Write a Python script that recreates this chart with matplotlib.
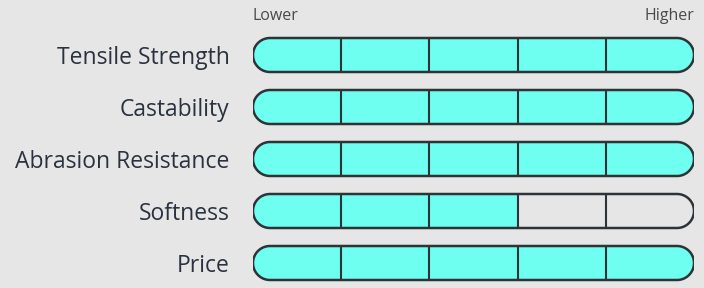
import numpy as np
import matplotlib
matplotlib.use('Agg')
import matplotlib.pyplot as plt
from matplotlib.patches import PathPatch, Rectangle
from matplotlib.path import Path

# Data
properties = ['Tensile Strength', 'Castability', 'Abrasion Resistance', 'Softness', 'Price']
levels = [5, 5, 5, 3, 5]
n_steps = 5
scale_labels = ['Lower', 'Higher']

BG = '#e6e6e6'
FILL = '#6ffff0'
EDGE = '#2e3338'
TEXT = '#2a3240'

plt.rcParams['font.family'] = ['Open Sans', 'DejaVu Sans']

W, H, DPI = 704, 288, 100
fig = plt.figure(figsize=(W / DPI, H / DPI), dpi=DPI, facecolor=BG)

# bar area in pixels
x0, x1 = 253, 694
row_gap = 52
top_center = 55
y_top = top_center - row_gap / 2
y_bot = y_top + row_gap * len(properties)
ax = fig.add_axes([x0 / W, 1 - y_bot / H, (x1 - x0) / W, (y_bot - y_top) / H])
ax.set_facecolor(BG)
ax.set_xlim(0, n_steps)
ax.set_ylim(len(properties) - 0.5, -0.5)
for s in ax.spines.values():
    s.set_visible(False)

px_x = (x1 - x0) / n_steps       # pixels per x unit
px_y = row_gap                   # pixels per y unit
bar_h = 34 / px_y
rx = 17 / px_x                   # end radius in x units
ry = bar_h / 2


def pill_path(yc, length):
    # stadium shape, circular ends in pixel space
    t = np.linspace(np.pi / 2, 3 * np.pi / 2, 40)
    left = np.column_stack([rx + rx * np.cos(t), yc - ry * np.sin(t)])
    t2 = np.linspace(-np.pi / 2, np.pi / 2, 40)
    right = np.column_stack([length - rx + rx * np.cos(t2), yc - ry * np.sin(t2)])
    verts = np.vstack([left, right, left[:1]])
    codes = [Path.MOVETO] + [Path.LINETO] * (len(verts) - 2) + [Path.CLOSEPOLY]
    return Path(verts, codes)


for i, (name, lvl) in enumerate(zip(properties, levels)):
    pill = PathPatch(pill_path(i, n_steps), facecolor='none',
                     edgecolor=EDGE, linewidth=1.8, zorder=4)
    ax.add_patch(pill)
    for k in range(n_steps):
        seg = Rectangle((k, i - bar_h / 2), 1, bar_h,
                        facecolor=FILL if k < lvl else BG,
                        edgecolor='none', zorder=2)
        ax.add_patch(seg)
        seg.set_clip_path(pill)
    ax.vlines(np.arange(1, n_steps), i - bar_h / 2, i + bar_h / 2,
              colors=EDGE, linewidth=1.5, zorder=3)

ax.set_yticks(range(len(properties)))
ax.set_yticklabels(properties, fontsize=16.5, color=TEXT)
ax.tick_params(axis='y', length=0, pad=17)
ax.set_xticks([])

fig.text(x0 / W, 1 - 16 / H, scale_labels[0], ha='left', va='center',
         fontsize=11.5, color='#4a4a4a')
fig.text(x1 / W, 1 - 16 / H, scale_labels[1], ha='right', va='center',
         fontsize=11.5, color='#4a4a4a')

fig.savefig('out.png', dpi=DPI, facecolor=BG)
